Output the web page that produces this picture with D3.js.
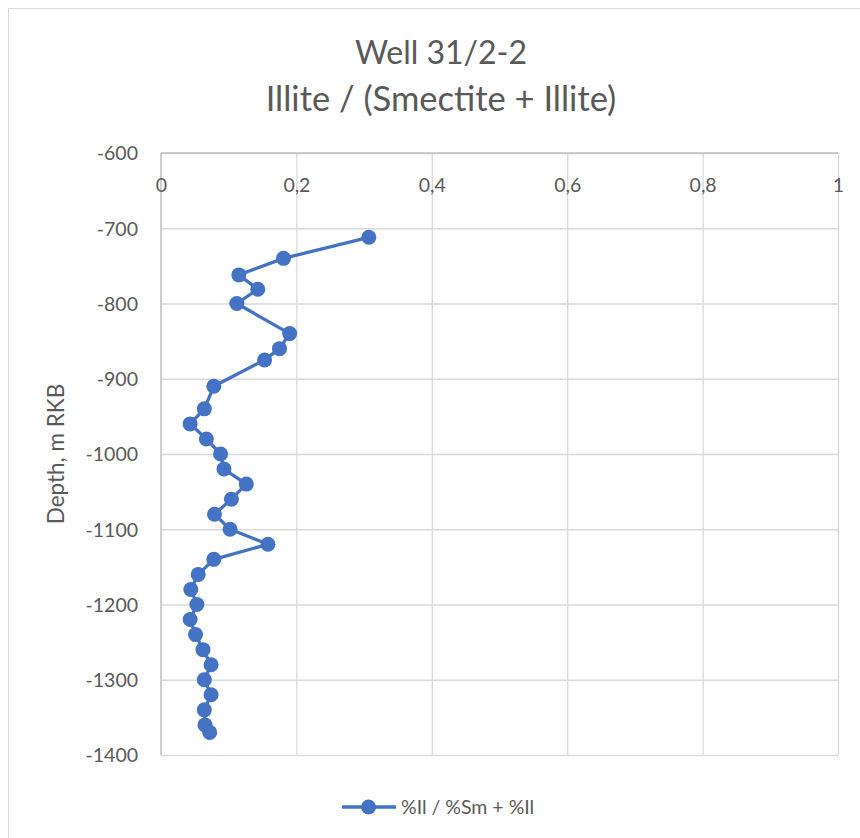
<!DOCTYPE html>
<html>
<head>
<meta charset="utf-8">
<script src="https://cdnjs.cloudflare.com/ajax/libs/d3/7.8.5/d3.min.js"></script>
<style>
  html, body { margin: 0; padding: 0; background: #fff; }
  svg { display: block; }
  text { font-family: Lato, "Open Sans", sans-serif; fill: #595959; }
</style>
</head>
<body>
<svg id="chart" width="860" height="838"></svg>
<script>
// Illite fraction I/(S+I) vs depth, well 31/2-2
const depths = [-712, -740, -762, -781, -800, -840, -860, -875, -910, -940,
                -960, -980, -1000, -1020, -1040, -1060, -1080, -1100, -1120, -1140,
                -1160, -1180, -1200, -1220, -1240, -1260, -1280, -1300, -1320, -1340,
                -1360, -1370];
const illiteRatio = [0.307, 0.181, 0.115, 0.143, 0.112, 0.190, 0.175, 0.153, 0.078, 0.064,
                     0.043, 0.067, 0.088, 0.093, 0.126, 0.104, 0.079, 0.102, 0.158, 0.078,
                     0.055, 0.044, 0.053, 0.043, 0.051, 0.062, 0.074, 0.064, 0.074, 0.064,
                     0.065, 0.072];
const xTicks = [0, 0.2, 0.4, 0.6, 0.8, 1];
const yTicks = [-600, -700, -800, -900, -1000, -1100, -1200, -1300, -1400];
const titleLines = ["Well 31/2-2", "Illite / (Smectite + Illite)"];
const yAxisTitle = "Depth, m RKB";
const seriesName = "%Il / %Sm + %Il";

const points = depths.map((d, i) => ({ depth: d, value: illiteRatio[i] }));

const svg = d3.select("#chart");
const color = "#4472c4";
const gridColor = "#d9d9d9";

// chart frame
svg.append("rect")
  .attr("x", 8.5).attr("y", 8.5)
  .attr("width", 900).attr("height", 900)
  .attr("fill", "none").attr("stroke", gridColor).attr("stroke-width", 1);

const x = d3.scaleLinear().domain([0, 1]).range([161, 838]);
const y = d3.scaleLinear().domain([-600, -1400]).range([153, 755]);

// horizontal gridlines
svg.append("g")
  .attr("transform", `translate(${x(0)},0)`)
  .call(d3.axisLeft(y).tickValues(yTicks).tickSize(-(x(1) - x(0))).tickFormat(""))
  .call(g => g.select(".domain").remove())
  .call(g => g.selectAll("line").attr("stroke", gridColor).attr("stroke-width", 1.3));

// vertical gridlines
svg.append("g")
  .attr("transform", `translate(0,${y(-1400)})`)
  .call(d3.axisTop(x).tickValues(xTicks.slice(1)).tickSize(y(-1400) - y(-600)).tickFormat(""))
  .call(g => g.select(".domain").remove())
  .call(g => g.selectAll("line").attr("stroke", gridColor).attr("stroke-width", 1.3));

// axis lines at value 0 and depth -600
svg.append("line")
  .attr("x1", x(0)).attr("x2", x(0)).attr("y1", y(-600)).attr("y2", y(-1400))
  .attr("stroke", "#bfbfbf").attr("stroke-width", 1.5);
svg.append("line")
  .attr("x1", x(0)).attr("x2", x(1)).attr("y1", y(-600)).attr("y2", y(-600))
  .attr("stroke", "#bfbfbf").attr("stroke-width", 1.5);

// y tick labels
const yLab = svg.append("g")
  .attr("transform", `translate(${x(0) - 23},0)`)
  .call(d3.axisLeft(y).tickValues(yTicks).tickSize(0).tickPadding(0).tickFormat(d => d));
yLab.select(".domain").remove();
yLab.selectAll("text")
  .style("font-size", "19.5px").attr("fill", "#595959").attr("dy", "0.35em");

// x tick labels (decimal comma)
const fmt = d => d === 0 || d === 1 ? String(d) : String(d).replace(".", ",");
const xLab = svg.append("g")
  .attr("transform", `translate(0,${y(-600) + 32})`)
  .call(d3.axisBottom(x).tickValues(xTicks).tickSize(0).tickPadding(0).tickFormat(fmt));
xLab.select(".domain").remove();
xLab.selectAll("text")
  .style("font-size", "19.5px").attr("fill", "#595959").attr("dy", "0.35em").attr("y", 0);

// titles
svg.append("g").selectAll("text").data(titleLines).join("text")
  .attr("x", 441).attr("y", (d, i) => 64 + i * 47)
  .attr("text-anchor", "middle")
  .style("font-size", (d, i) => i === 0 ? "32px" : "34.5px")
  .text(d => d);

svg.append("text")
  .attr("transform", `translate(64,${(y(-600) + y(-1400)) / 2}) rotate(-90)`)
  .attr("text-anchor", "middle")
  .style("font-size", "22.5px")
  .text(yAxisTitle);

// series
const line = d3.line().x(d => x(d.value)).y(d => y(d.depth));
svg.append("path")
  .datum(points)
  .attr("d", line)
  .attr("fill", "none").attr("stroke", color)
  .attr("stroke-width", 3.3).attr("stroke-linejoin", "round");

svg.append("g").selectAll("circle").data(points).join("circle")
  .attr("cx", d => x(d.value)).attr("cy", d => y(d.depth))
  .attr("r", 7.5).attr("fill", color);

// legend
const lg = svg.append("g").attr("transform", "translate(342,807)");
lg.append("line").attr("x1", 0).attr("x2", 54).attr("y1", 0).attr("y2", 0)
  .attr("stroke", color).attr("stroke-width", 3.3);
lg.append("circle").attr("cx", 26.5).attr("cy", 0).attr("r", 7.5).attr("fill", color);
lg.append("text").attr("x", 59).attr("y", 0).attr("dy", "0.35em")
  .style("font-size", "19.5px").text(seriesName);
</script>
</body>
</html>
